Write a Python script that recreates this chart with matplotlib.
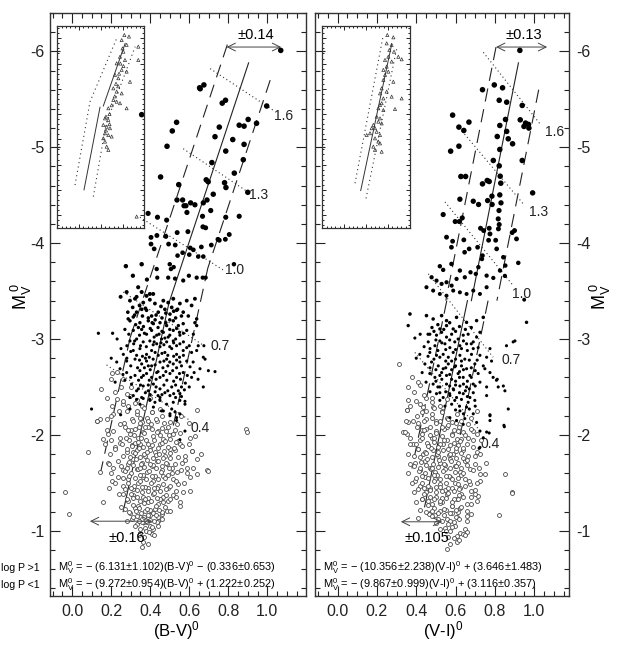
import numpy as np
import matplotlib
matplotlib.use("Agg")
import matplotlib.pyplot as plt
from matplotlib.ticker import MultipleLocator, FormatStrFormatter

plt.rcParams['font.family'] = ['Liberation Sans', 'DejaVu Sans']
plt.rcParams['mathtext.fontset'] = 'custom'
plt.rcParams['mathtext.rm'] = 'Liberation Sans'
plt.rcParams['mathtext.it'] = 'Liberation Sans:italic'
plt.rcParams['mathtext.bf'] = 'Liberation Sans:bold'
plt.rcParams['axes.unicode_minus'] = False

# ------------------------------------------------------------------ data
# fits: (slope, zero point)
bv_fit_hi = (-6.131, -0.336)   # log P > 1
bv_fit_lo = (-9.272, 1.222)    # log P < 1
vi_fit_hi = (-10.356, 3.646)
vi_fit_lo = (-9.867, 3.116)
bv_halfwidth = (0.14, 0.16)
vi_halfwidth = (0.13, 0.105)

# magnitude ranges of the drawn ridge / band segments (hi part, lo part)
bv_solid_M = [(-5.88, -3.377), (-3.377, -1.2)]
bv_left_M = [(-6.07, -3.015), (-3.015, -1.58)]
bv_right_M = [(-5.70, -3.739), (-3.739, -2.0)]
vi_solid_M = [(-5.88, -3.40), (-3.40, -1.25)]
vi_left_M = [(-6.045, -3.40), (-3.40, -1.65)]
vi_right_M = [(-5.60, -3.40), (-3.40, -2.0)]

logp_labels = ["1.6", "1.3", "1.0", "0.7", "0.4"]
bv_logp_lines = [(0.707, -5.82, 1.031, -5.385), (0.569, -4.985, 0.903, -4.53),
                 (0.347, -4.27, 0.774, -3.72), (0.262, -3.49, 0.672, -2.935),
                 (0.176, -2.73, 0.604, -2.15)]
bv_logp_label_pos = [(1.082, -5.33), (0.954, -4.50), (0.834, -3.72), (0.757, -2.93), (0.655, -2.07)]
vi_logp_lines = [(0.741, -5.99, 1.029, -5.245), (0.62, -5.20, 0.944, -4.41),
                 (0.546, -4.43, 0.893, -3.557), (0.461, -3.68, 0.791, -2.81),
                 (0.393, -2.86, 0.724, -2.044)]
vi_logp_label_pos = [(1.105, -5.157), (1.02, -4.32), (0.936, -3.47), (0.885, -2.78), (0.775, -1.90)]

bv_arrow_top_M, bv_arrow_bot_M = -6.045, -1.10
vi_arrow_top_M, vi_arrow_bot_M = -6.045, -1.094

bv_eq = ["M$_{\\rm V}^{0}$ = \u2212 (6.131\u00b11.102)(B-V)$^{0}$ \u2212 (0.336\u00b10.653)",
         "M$_{\\rm V}^{0}$ = \u2212 (9.272\u00b10.954)(B-V)$^{0}$ + (1.222\u00b10.252)"]
vi_eq = ["M$_{\\rm V}^{0}$ = \u2212 (10.356\u00b12.238)(V-I)$^{0}$ + (3.646\u00b11.483)",
         "M$_{\\rm V}^{0}$ = \u2212 (9.867\u00b10.999)(V-I)$^{0}$ + (3.116\u00b10.357)"]

# long-period (filled) Cepheids, (B-V)0 vs MV0
bv_filled = [
 (1.069,-6.01),(0.653,-5.62),(0.656,-5.61),(0.675,-5.65),(0.769,-5.46),(0.786,-5.49),(0.997,-5.43),
 (0.535,-5.26),(0.513,-5.17),(0.754,-5.21),(0.856,-5.23),(0.881,-5.22),(0.902,-5.29),(0.945,-5.25),
 (0.732,-5.11),(0.823,-5.08),(0.881,-5.03),(0.486,-5.01),(0.787,-4.96),(0.877,-4.87),(0.716,-4.84),
 (0.831,-4.73),(0.453,-4.69),(0.687,-4.66),(0.697,-4.64),(0.781,-4.63),(0.788,-4.58),(0.546,-4.61),
 (0.723,-4.51),(0.90,-4.53),(0.537,-4.45),(0.566,-4.45),(0.573,-4.39),(0.583,-4.39),(0.607,-4.42),
 (0.629,-4.40),(0.588,-4.32),(0.672,-4.42),(0.691,-4.45),(0.71,-4.34),(0.668,-4.28),(0.787,-4.27),
 (0.856,-4.28),(0.484,-4.24),(0.67,-4.17),(0.684,-4.16),(0.593,-4.12),(0.538,-4.11),(0.805,-4.09),
 (0.785,-4.04),(0.754,-4.03),(0.747,-4.04),(0.662,-3.96),(0.713,-3.98),(0.605,-3.95),(0.621,-3.93),
 (0.60,-3.88),(0.528,-3.98),(0.404,-4.06),(0.434,-4.08),(0.404,-3.99),(0.42,-3.94),(0.389,-4.31),
 (0.437,-4.27),(0.48,-4.07),(0.494,-3.99),(0.54,-3.87),(0.566,-3.90),(0.646,-3.86),(0.672,-3.86),
 (0.684,-3.64),(0.669,-3.64),(0.829,-3.78),(0.275,-3.76),(0.311,-3.66),(0.356,-3.78),(0.383,-3.62),
 (0.433,-3.73),(0.436,-3.64),(0.50,-3.78),(0.506,-3.73),(0.52,-3.75),(0.492,-3.64),(0.527,-3.63),
 (0.569,-3.61),(0.598,-3.66),(0.638,-3.64),(0.248,-3.44),(0.279,-3.49),(0.338,-3.54),(0.33,-3.44),
 (0.356,-3.49),(0.381,-3.45),(0.398,-3.47),(0.415,-3.47),(0.356,-5.34),
 (0.296,-3.40),(0.322,-3.42),(0.364,-3.38),(0.398,-3.41),(0.424,-3.37),(0.467,-3.40),(0.492,-3.38),
 (0.518,-3.42),(0.552,-3.37),(0.587,-3.40),(0.612,-3.35),(0.629,-3.42),
 (0.33,-3.28),(0.356,-3.31),(0.381,-3.30),(0.407,-3.24),(0.441,-3.28),(0.475,-3.31),(0.501,-3.26),
 (0.535,-3.30),(0.569,-3.28),(0.595,-3.24),(0.638,-3.21),(0.287,-3.21),(0.313,-3.23),
 (0.296,-3.19),(0.347,-3.17),(0.39,-3.19),(0.416,-3.16),(0.45,-3.17),(0.484,-3.14),(0.518,-3.19),
 (0.544,-3.14),(0.569,-3.16),(0.629,-3.17),(0.638,-3.14),(0.339,-3.12),
 (0.134,-3.06),(0.207,-3.06),(0.313,-3.09),(0.356,-3.10),(0.381,-3.05),(0.407,-3.09),(0.433,-3.04),
 (0.467,-3.07),(0.492,-3.02),(0.518,-3.09),(0.552,-3.04),(0.587,-3.09),(0.621,-3.05),
 (0.296,-2.98),(0.33,-3.0),(0.364,-2.97),(0.398,-2.98),(0.433,-2.95),(0.458,-3.0),(0.484,-2.97),
 (0.518,-2.98),(0.552,-2.95),(0.587,-2.91),(0.646,-2.93),(0.675,-2.93),
 (0.262,-2.84),(0.313,-2.88),(0.347,-2.90),(0.381,-2.84),(0.407,-2.88),(0.441,-2.83),(0.475,-2.86),
 (0.51,-2.90),(0.535,-2.84),(0.569,-2.88),(0.612,-2.86),(0.638,-2.88),(0.681,-2.79),(0.672,-2.81),
 (0.228,-2.76),(0.279,-2.77),(0.322,-2.79),(0.356,-2.74),(0.381,-2.77),(0.407,-2.72),(0.45,-2.76),
 (0.484,-2.79),(0.518,-2.74),(0.552,-2.76),(0.587,-2.77),(0.604,-2.71),(0.655,-2.69),(0.732,-2.66),
 (0.698,-2.67),(0.245,-2.69),(0.279,-2.65),(0.322,-2.62),(0.347,-2.67),(0.381,-2.64),(0.407,-2.60),
 (0.433,-2.65),(0.467,-2.62),(0.501,-2.64),(0.535,-2.60),(0.569,-2.65),(0.612,-2.60),(0.672,-2.50),
 (0.27,-2.57),(0.304,-2.53),(0.339,-2.48),(0.364,-2.51),(0.39,-2.46),(0.416,-2.53),(0.45,-2.48),
 (0.475,-2.44),(0.51,-2.50),(0.544,-2.46),(0.313,-2.41),(0.356,-2.39),(0.398,-2.37),(0.45,-2.39),
 (0.501,-2.41),(0.552,-2.43),
 (0.31,-3.33),(0.345,-3.35),(0.375,-3.32),(0.455,-3.34),(0.51,-3.33),(0.54,-3.31),(0.39,-3.22),
 (0.425,-3.20),(0.46,-3.22),(0.5,-3.20),(0.53,-3.22),(0.325,-3.15),(0.365,-3.13),(0.40,-3.11),
 (0.44,-3.12),(0.46,-3.08),(0.5,-3.10),(0.535,-3.11),(0.57,-3.06),(0.42,-3.02),(0.445,-3.05),
 (0.475,-3.01),(0.5,-3.04),(0.53,-3.00),(0.345,-3.04),(0.315,-2.95),(0.35,-2.93),(0.38,-2.92),
 (0.415,-2.94),(0.45,-2.92),(0.47,-2.94),(0.5,-2.92),(0.535,-2.93),(0.57,-2.97),(0.3,-2.87),
 (0.33,-2.83),(0.36,-2.82),(0.395,-2.81),(0.425,-2.86),(0.46,-2.85),(0.49,-2.83),(0.52,-2.82),
 (0.55,-2.81),(0.3,-2.72),(0.335,-2.70),(0.37,-2.70),(0.39,-2.72),(0.425,-2.73),(0.465,-2.70),
 (0.49,-2.72),(0.535,-2.70),(0.56,-2.72),(0.355,-2.60),(0.395,-2.57),(0.43,-2.58),(0.45,-2.60),
 (0.485,-2.57),(0.52,-2.56),(0.555,-2.58),(0.58,-2.54),(0.33,-2.46),(0.375,-2.44),(0.425,-2.45),
 (0.46,-2.42),(0.49,-2.46),(0.52,-2.43),(0.575,-2.47),(0.6,-2.50),(0.625,-2.65),(0.645,-2.58),
 (0.23,-3.0),(0.25,-2.9),(0.2,-2.8),(0.22,-2.55),
 (0.296,-2.39),(0.33,-2.37),(0.364,-2.38),(0.398,-2.36),(0.424,-2.34),(0.45,-2.36),(0.484,-2.32),
 (0.518,-2.34),(0.552,-2.36),(0.578,-2.35),(0.099,-2.27),(0.51,-2.27),(0.527,-2.24),(0.552,-2.22),
 (0.578,-2.04),(0.552,-1.95),(0.347,-2.32),(0.416,-2.29),(0.458,-2.25),(0.501,-2.20),(0.535,-2.15),
 (0.578,-2.32),(0.501,-2.22),(0.535,-2.18),(0.467,-2.25),(0.248,-2.21),(0.296,-2.27)]
bv_filled_more = [
 (0.285,-3.28),(0.32,-3.25),(0.36,-3.24),(0.43,-3.25),(0.48,-3.27),(0.52,-3.29),(0.56,-3.24),(0.27,-3.1),
 (0.29,-3.05),(0.37,-3.06),(0.41,-3.17),(0.48,-3.17),(0.55,-3.07),(0.28,-2.93),(0.32,-2.98),(0.42,-2.97),
 (0.455,-2.96),(0.52,-2.96),(0.6,-2.93),(0.28,-2.8),(0.345,-2.78),(0.375,-2.8),(0.415,-2.79),(0.47,-2.77),
 (0.5,-2.76),(0.535,-2.78),(0.57,-2.83),(0.62,-2.76),(0.26,-2.63),(0.3,-2.6),(0.34,-2.57),(0.365,-2.62),
 (0.4,-2.68),(0.44,-2.66),(0.48,-2.66),(0.515,-2.67),(0.55,-2.64),(0.59,-2.62),(0.35,-2.52),(0.39,-2.52),
 (0.43,-2.5),(0.47,-2.52),(0.53,-2.52),(0.56,-2.5),(0.4,-2.42),(0.44,-2.41),(0.53,-2.39),(0.56,-2.4)]

# short-period (open) Cepheids, (B-V)0 vs MV0
bv_open = [
 (0.202,-2.30),(0.227,-2.37),(0.262,-2.32),(0.296,-2.41),(0.33,-2.36),(0.356,-2.30),(0.398,-2.39),(0.287,-2.30),
 (0.125,-2.15),(0.176,-2.17),(0.21,-2.22),(0.245,-2.11),(0.279,-2.25),(0.304,-2.17),(0.33,-2.22),(0.356,-2.13),
 (0.381,-2.18),(0.407,-2.24),(0.433,-2.15),(0.458,-2.20),(0.501,-2.13),(0.535,-2.11),(0.638,-2.26),(0.142,-2.17),
 (0.159,-1.96),(0.185,-2.01),(0.21,-2.04),(0.245,-1.97),(0.27,-2.08),(0.296,-2.01),(0.322,-2.06),(0.339,-1.97),
 (0.364,-2.03),(0.39,-2.08),(0.416,-1.99),(0.441,-2.04),(0.467,-1.96),(0.492,-2.08),(0.518,-2.01),(0.544,-1.94),
 (0.604,-1.97),(0.629,-1.99),
 (0.082,-1.82),(0.168,-1.90),(0.193,-1.80),(0.219,-1.87),(0.245,-1.92),(0.279,-1.82),(0.304,-1.89),(0.33,-1.84),
 (0.347,-1.90),(0.373,-1.78),(0.398,-1.87),(0.424,-1.82),(0.45,-1.90),(0.475,-1.78),(0.501,-1.85),(0.527,-1.84),
 (0.552,-1.90),(0.578,-1.78),(0.612,-1.83),(0.638,-1.75),
 (0.142,-1.61),(0.185,-1.71),(0.21,-1.66),(0.236,-1.73),(0.262,-1.63),(0.287,-1.70),(0.313,-1.75),(0.33,-1.64),
 (0.356,-1.71),(0.381,-1.61),(0.407,-1.68),(0.433,-1.73),(0.458,-1.63),(0.484,-1.70),(0.51,-1.66),(0.535,-1.61),
 (0.561,-1.71),(0.587,-1.66),(0.689,-1.63),
 (0.202,-1.52),(0.236,-1.56),(0.262,-1.47),(0.287,-1.54),(0.313,-1.44),(0.339,-1.50),(0.364,-1.56),(0.39,-1.45),
 (0.416,-1.52),(0.441,-1.47),(0.467,-1.57),(0.492,-1.45),(0.518,-1.54),(0.544,-1.49),(0.604,-1.56),
 (0.159,-1.30),(0.262,-1.38),(0.287,-1.31),(0.313,-1.37),(0.339,-1.26),(0.364,-1.35),(0.39,-1.30),(0.416,-1.38),
 (0.441,-1.28),(0.467,-1.35),(0.492,-1.31),(0.518,-1.37),(0.552,-1.26),(0.604,-1.42),
 (0.27,-1.23),(0.296,-1.19),(0.322,-1.24),(0.347,-1.14),(0.373,-1.21),(0.398,-1.16),(0.424,-1.23),(0.441,-1.10),
 (0.458,-1.17),(0.484,-1.21),(0.381,-1.09),(0.433,-1.09),
 (0.279,-1.10),(0.304,-1.12),(0.33,-1.07),(0.356,-1.09),(0.373,-1.03),(0.398,-1.05),(0.416,-1.02),(0.441,-1.05),
 (0.322,-1.05),(0.347,-0.98),(0.407,-0.97),(0.361,-0.88),(0.39,-0.86),(0.356,-0.83),
 (0.30,-2.05),(0.34,-2.08),(0.37,-2.02),(0.41,-2.06),(0.45,-2.0),(0.48,-2.04),(0.29,-1.95),(0.32,-1.92),
 (0.355,-1.97),(0.39,-1.9),(0.42,-1.95),(0.46,-1.92),(0.50,-1.96),(0.28,-1.85),(0.31,-1.82),(0.34,-1.86),
 (0.37,-1.8),(0.40,-1.84),(0.43,-1.79),(0.47,-1.83),(0.52,-1.86),(0.29,-1.72),(0.325,-1.75),(0.355,-1.70),
 (0.385,-1.74),(0.415,-1.69),(0.44,-1.73),(0.48,-1.71),(0.50,-1.76),(0.27,-1.62),(0.30,-1.6),(0.335,-1.64),
 (0.365,-1.58),(0.395,-1.62),(0.425,-1.57),(0.455,-1.61),(0.49,-1.58),(0.285,-1.5),(0.315,-1.47),(0.345,-1.52),
 (0.375,-1.46),(0.405,-1.5),(0.435,-1.45),(0.465,-1.49),(0.3,-1.38),(0.33,-1.35),(0.36,-1.4),(0.39,-1.34),
 (0.42,-1.39),(0.45,-1.33),(0.48,-1.37),(0.31,-1.27),(0.34,-1.24),(0.37,-1.29),(0.4,-1.22),(0.43,-1.26),
 (0.46,-1.2),(0.33,-1.15),(0.36,-1.12),(0.39,-1.16),(0.42,-1.1),(0.44,-1.14),(0.35,-1.02),(0.38,-1.0),
 (0.41,-1.04),(0.31,-2.15),(0.35,-2.18),(0.39,-2.14),(0.43,-2.17),(0.47,-2.12),(0.33,-2.25),(0.37,-2.28),
 (0.41,-2.24),(0.45,-2.27),(0.26,-2.35),(0.32,-2.33),(0.30,-2.5),(0.26,-2.58),(0.23,-2.66),(0.2,-2.58),
 (-0.037,-1.40),(-0.015,-1.17),(0.125,-2.14),(0.146,-2.48),(0.889,-2.06),(0.897,-2.03),(0.698,-1.627),
 (0.638,-1.59),(0.612,-1.83),(0.202,-2.65)]
bv_open_more = [
 (0.265,-2.12),(0.285,-2.05),(0.315,-2.0),(0.345,-2.12),(0.375,-2.08),(0.405,-2.11),(0.435,-2.03),(0.46,-2.07),
 (0.495,-2.0),(0.525,-2.05),(0.555,-2.02),(0.255,-1.9),(0.275,-1.97),(0.305,-1.88),(0.335,-1.93),(0.365,-1.87),
 (0.38,-1.95),(0.41,-1.89),(0.44,-1.86),(0.475,-1.94),(0.49,-1.87),(0.53,-1.93),(0.565,-1.88),(0.26,-1.78),
 (0.295,-1.77),(0.32,-1.81),(0.35,-1.77),(0.385,-1.82),(0.415,-1.76),(0.445,-1.8),(0.465,-1.76),(0.5,-1.81),
 (0.54,-1.77),(0.58,-1.74),(0.25,-1.68),(0.28,-1.66),(0.31,-1.69),(0.345,-1.66),(0.37,-1.67),(0.4,-1.7),
 (0.43,-1.66),(0.46,-1.68),(0.495,-1.65),(0.525,-1.7),(0.56,-1.63),(0.26,-1.55),(0.29,-1.57),(0.32,-1.55),
 (0.35,-1.58),(0.38,-1.54),(0.41,-1.57),(0.44,-1.54),(0.475,-1.55),(0.51,-1.6),(0.53,-1.52),(0.575,-1.5),
 (0.27,-1.44),(0.3,-1.45),(0.33,-1.43),(0.36,-1.46),(0.39,-1.42),(0.42,-1.45),(0.45,-1.41),(0.48,-1.44),
 (0.5,-1.47),(0.53,-1.42),(0.28,-1.33),(0.31,-1.34),(0.345,-1.31),(0.375,-1.33),(0.405,-1.31),(0.435,-1.34),
 (0.465,-1.3),(0.5,-1.33),(0.53,-1.35),(0.29,-1.2),(0.325,-1.21),(0.355,-1.19),(0.385,-1.23),(0.415,-1.19),
 (0.445,-1.22),(0.475,-1.25),(0.5,-1.21),(0.31,-1.14),(0.34,-1.1),(0.37,-1.14),(0.4,-1.11),(0.43,-1.16),
 (0.46,-1.12),(0.34,-0.96),(0.37,-0.94),(0.395,-0.99),(0.42,-0.96),(0.22,-2.45),(0.25,-2.5),(0.28,-2.43),
 (0.18,-2.38),(0.24,-2.25),(0.2,-2.2),(0.18,-2.05),(0.2,-1.95),(0.22,-1.85),(0.19,-1.7),(0.2,-1.6),
 (0.22,-1.5),(0.24,-1.38),(0.19,-1.45),(0.25,-1.25),(0.56,-2.2),(0.6,-2.12),(0.59,-1.6),(0.62,-1.65),
 (0.57,-1.4),(0.55,-1.3),(0.66,-1.8),(0.6,-1.9)]

# long-period (filled) Cepheids, (V-I)0 vs MV0
vi_filled = [
 (0.927,-6.01),(0.737,-5.60),(0.797,-5.65),(0.839,-5.62),(0.822,-5.49),(0.939,-5.436),(0.585,-5.335),
 (0.617,-5.21),(0.642,-5.175),(0.668,-5.262),(0.825,-5.227),(0.929,-5.286),(0.948,-5.217),(0.956,-5.252),
 (0.971,-5.238),(0.973,-5.2),(0.86,-5.165),(0.812,-5.112),(0.868,-5.088),(0.89,-5.036),(0.617,-5.011),
 (0.575,-4.959),(0.825,-4.977),(0.939,-4.862),(0.792,-4.862),(0.822,-4.806),(0.627,-4.695),(0.651,-4.695),
 (0.761,-4.653),(0.771,-4.643),(0.737,-4.618),(0.827,-4.698),(0.83,-4.625),(0.992,-4.524),(0.785,-4.49),
 (0.763,-4.444),(0.786,-4.403),(0.825,-4.503),(0.831,-4.42),(0.821,-4.34),(0.622,-4.458),(0.69,-4.437),
 (0.717,-4.403),(0.634,-4.263),(0.619,-4.225),(0.598,-4.225),(0.537,-4.298),(0.727,-4.155),(0.743,-4.131),
 (0.771,-4.155),(0.775,-4.096),(0.817,-4.253),(0.822,-4.194),(0.818,-4.149),(0.888,-4.11),(0.91,-4.044),
 (0.9,-4.131),(0.554,-4.062),(0.585,-4.02),(0.579,-3.957),(0.642,-4.034),(0.669,-3.94),(0.646,-3.905),
 (0.712,-3.957),(0.737,-3.87),(0.734,-3.835),(0.768,-4.03),(0.804,-4.03),(0.809,-3.94),(0.843,-3.853),
 (0.853,-3.766),(0.826,-3.714),(0.919,-3.794),(0.52,-3.759),(0.537,-3.721),(0.579,-3.783),(0.622,-3.714),
 (0.647,-3.644),(0.676,-3.696),(0.716,-3.749),(0.703,-3.679),(0.758,-3.661),(0.792,-3.637),(0.851,-3.658),
 (0.478,-3.644),(0.503,-3.609),(0.529,-3.575),(0.554,-3.592),(0.58,-3.557),(0.605,-3.627),(0.452,-3.54),
 (0.486,-3.505),(0.52,-3.47),(0.554,-3.452),(0.588,-3.505),(0.622,-3.487),(0.656,-3.47),(0.69,-3.505),
 (0.724,-3.47),(0.758,-3.54),(0.949,-3.41),(0.368,-3.261),(0.452,-3.244),(0.486,-3.209),(0.529,-3.244),
 (0.554,-3.192),(0.605,-3.226),(0.656,-3.174),(0.707,-3.192),(0.741,-3.226),(0.961,-3.174),(0.359,-3.14),
 (0.52,-3.105),(0.554,-3.14),(0.588,-3.105),(0.86,-5.47),(0.854,-5.29),
 (0.393,-3.01),(0.469,-3.05),(0.503,-3.04),(0.529,-3.07),(0.554,-3.02),(0.58,-3.05),(0.613,-3.0),
 (0.639,-3.04),(0.664,-3.05),(0.707,-3.02),(0.724,-3.07),
 (0.461,-2.97),(0.495,-2.93),(0.52,-2.98),(0.546,-2.95),(0.571,-2.91),(0.596,-2.97),(0.622,-2.93),
 (0.656,-2.95),(0.69,-2.97),(0.715,-2.91),(0.775,-2.90),(0.859,-2.93),(0.902,-2.98),(0.893,-2.97),
 (0.418,-2.84),(0.469,-2.86),(0.503,-2.83),(0.537,-2.84),(0.563,-2.81),(0.588,-2.86),(0.622,-2.83),
 (0.647,-2.79),(0.681,-2.84),(0.724,-2.83),(0.758,-2.81),(0.783,-2.77),
 (0.444,-2.74),(0.478,-2.76),(0.512,-2.72),(0.537,-2.69),(0.563,-2.74),(0.596,-2.71),(0.63,-2.72),
 (0.656,-2.69),(0.698,-2.74),(0.741,-2.72),(0.749,-2.69),
 (0.469,-2.64),(0.495,-2.60),(0.529,-2.65),(0.554,-2.62),(0.58,-2.58),(0.613,-2.64),(0.639,-2.60),
 (0.673,-2.62),(0.715,-2.64),(0.775,-2.65),(0.791,-2.60),(0.808,-2.57),(0.812,-2.58),(0.843,-2.51),
 (0.486,-2.53),(0.52,-2.50),(0.554,-2.53),(0.588,-2.48),(0.622,-2.51),(0.656,-2.50),(0.69,-2.53),
 (0.724,-2.55),(0.758,-2.50),(0.817,-2.50),(0.851,-2.46),
 (0.503,-2.43),(0.537,-2.39),(0.571,-2.41),(0.605,-2.39),(0.639,-2.43),(0.673,-2.39),(0.758,-2.41),
 (0.63,-2.37),(0.596,-2.36),(0.664,-2.34),(0.698,-2.36),(0.868,-2.27),(0.775,-2.21),(0.846,-2.10),
 (0.656,-2.29),(0.622,-2.25),(0.69,-2.22),(0.707,-2.13),(0.775,-2.15),(0.724,-2.04),(0.741,-1.97),
 (0.72,-1.86),(0.571,-2.18),(0.605,-2.15),(0.647,-2.17),(0.639,-2.11),(0.546,-2.30),(0.848,-2.085),
 (0.775,-2.20),(0.758,-2.03),(0.771,-2.02),(0.724,-1.87),
 (0.48,-3.12),(0.51,-3.15),(0.57,-3.17),(0.62,-3.13),(0.68,-3.12),(0.50,-2.99),(0.53,-2.96),(0.57,-2.99),
 (0.64,-2.98),(0.60,-2.89),(0.66,-2.88),(0.69,-2.9),(0.49,-2.79),(0.52,-2.81),(0.6,-2.79),(0.67,-2.78),
 (0.58,-2.68),(0.62,-2.66),(0.70,-2.67),(0.50,-2.56),(0.53,-2.58),(0.60,-2.56),(0.66,-2.56),(0.70,-2.51),
 (0.55,-2.45),(0.59,-2.47),(0.65,-2.46),(0.69,-2.44),(0.42,-3.05),(0.44,-2.92),(0.40,-2.80),(0.43,-2.65),
 (0.45,-2.55),(0.47,-2.45),(0.52,-2.36),(0.58,-2.32),(0.62,-2.30),(0.66,-2.40)]
vi_filled_more = [
 (0.46,-3.05),(0.49,-3.08),(0.54,-3.1),(0.6,-3.08),(0.65,-3.1),(0.47,-2.9),(0.51,-2.88),(0.55,-2.89),
 (0.63,-2.9),(0.68,-2.95),(0.46,-2.82),(0.55,-2.77),(0.58,-2.77),(0.63,-2.77),(0.71,-2.78),(0.47,-2.7),
 (0.5,-2.68),(0.55,-2.7),(0.6,-2.72),(0.64,-2.68),(0.68,-2.7),(0.52,-2.62),(0.57,-2.63),(0.62,-2.6),
 (0.68,-2.6),(0.51,-2.5),(0.57,-2.51),(0.6,-2.52),(0.64,-2.53),(0.67,-2.48),(0.52,-2.44),(0.57,-2.43),
 (0.62,-2.44),(0.6,-2.26),(0.64,-2.22),(0.67,-2.27),(0.7,-2.3)]

# short-period (open) Cepheids, (V-I)0 vs MV0
vi_open = [
 (0.359,-2.36),(0.418,-2.32),(0.452,-2.39),(0.478,-2.34),(0.52,-2.30),(0.554,-2.37),(0.435,-2.29),(0.486,-2.29),
 (0.707,-2.25),(0.351,-2.26),(0.402,-2.20),(0.427,-2.24),(0.452,-2.17),(0.478,-2.22),(0.503,-2.15),(0.529,-2.25),
 (0.554,-2.18),(0.58,-2.13),(0.605,-2.22),(0.63,-2.15),(0.664,-2.11),(0.359,-2.13),(0.385,-2.15),
 (0.334,-2.03),(0.351,-2.01),(0.368,-1.97),(0.402,-2.08),(0.427,-2.01),(0.452,-2.06),(0.478,-1.97),(0.503,-2.04),
 (0.529,-1.99),(0.554,-2.08),(0.58,-2.01),(0.605,-1.96),(0.639,-2.03),(0.664,-1.97),(0.69,-2.04),(0.707,-2.01),
 (0.385,-1.90),(0.41,-1.85),(0.435,-1.80),(0.461,-1.89),(0.486,-1.84),(0.512,-1.78),(0.537,-1.90),(0.563,-1.85),
 (0.588,-1.80),(0.613,-1.89),(0.639,-1.84),(0.664,-1.78),(0.69,-1.87),(0.707,-1.82),(0.724,-1.80),
 (0.368,-1.70),(0.393,-1.71),(0.418,-1.63),(0.444,-1.73),(0.469,-1.66),(0.495,-1.61),(0.52,-1.71),(0.546,-1.64),
 (0.571,-1.75),(0.596,-1.68),(0.622,-1.61),(0.647,-1.73),(0.673,-1.64),(0.698,-1.70),(0.724,-1.59),(0.754,-1.71),
 (0.749,-1.59),(0.851,-1.59),
 (0.393,-1.52),(0.418,-1.47),(0.444,-1.56),(0.469,-1.45),(0.495,-1.54),(0.52,-1.49),(0.546,-1.43),(0.571,-1.56),
 (0.596,-1.50),(0.622,-1.45),(0.647,-1.54),(0.673,-1.49),(0.698,-1.43),(0.724,-1.52),(0.885,-1.40),
 (0.427,-1.33),(0.452,-1.40),(0.478,-1.28),(0.503,-1.35),(0.529,-1.30),(0.554,-1.38),(0.58,-1.26),(0.605,-1.33),
 (0.63,-1.38),(0.656,-1.28),(0.681,-1.35),(0.707,-1.31),(0.715,-1.36),
 (0.469,-1.19),(0.495,-1.16),(0.52,-1.21),(0.554,-1.12),(0.58,-1.19),(0.605,-1.14),(0.622,-1.24),(0.656,-1.10),
 (0.681,-1.17),(0.466,-1.18),
 (0.546,-1.03),(0.571,-1.00),(0.596,-1.05),(0.622,-0.98),(0.647,-1.02),(0.605,-0.95),(0.639,-0.97),(0.656,-0.99),
 (0.554,-0.81),(0.605,-0.88),(0.647,-0.96),
 (0.43,-2.05),(0.47,-2.08),(0.50,-2.02),(0.54,-2.06),(0.58,-2.0),(0.61,-2.04),(0.42,-1.95),(0.455,-1.92),
 (0.49,-1.97),(0.52,-1.9),(0.555,-1.95),(0.59,-1.92),(0.63,-1.96),(0.41,-1.85),(0.445,-1.82),(0.475,-1.86),
 (0.505,-1.8),(0.535,-1.84),(0.565,-1.79),(0.60,-1.83),(0.64,-1.86),(0.425,-1.72),(0.455,-1.75),(0.485,-1.70),
 (0.515,-1.74),(0.545,-1.69),(0.575,-1.73),(0.61,-1.71),(0.64,-1.76),(0.415,-1.62),(0.445,-1.6),(0.475,-1.64),
 (0.505,-1.58),(0.535,-1.62),(0.565,-1.57),(0.595,-1.61),(0.63,-1.58),(0.43,-1.5),(0.46,-1.47),(0.49,-1.52),
 (0.52,-1.46),(0.55,-1.5),(0.58,-1.45),(0.61,-1.49),(0.44,-1.38),(0.47,-1.35),(0.50,-1.4),(0.53,-1.34),
 (0.56,-1.39),(0.59,-1.33),(0.62,-1.37),(0.46,-1.27),(0.49,-1.24),(0.52,-1.29),(0.55,-1.22),(0.58,-1.26),
 (0.61,-1.2),(0.48,-1.15),(0.51,-1.12),(0.54,-1.16),(0.57,-1.1),(0.60,-1.14),(0.52,-1.02),(0.55,-1.0),
 (0.58,-1.04),(0.44,-2.15),(0.48,-2.18),(0.52,-2.14),(0.56,-2.17),(0.60,-2.12),(0.45,-2.25),(0.49,-2.28),
 (0.53,-2.24),(0.40,-2.35),(0.44,-2.42),(0.48,-2.38),(0.42,-2.52),(0.38,-2.6),
 (0.31,-2.74),(0.354,-2.26),(0.344,-2.027),(0.82,-1.167),(0.886,-1.397),(0.41,-1.132)]
vi_open_more = [
 (0.41,-2.12),(0.44,-2.05),(0.47,-2.0),(0.50,-2.12),(0.53,-2.08),(0.56,-2.1),(0.59,-2.05),(0.62,-2.08),
 (0.65,-2.0),(0.68,-2.06),(0.4,-1.9),(0.43,-1.97),(0.46,-1.88),(0.49,-1.93),(0.51,-1.87),(0.54,-1.95),
 (0.57,-1.89),(0.6,-1.86),(0.625,-1.94),(0.66,-1.9),(0.69,-1.95),(0.39,-1.78),(0.42,-1.77),(0.45,-1.81),
 (0.48,-1.77),(0.51,-1.82),(0.54,-1.76),(0.57,-1.8),(0.6,-1.76),(0.63,-1.81),(0.66,-1.74),(0.39,-1.68),
 (0.42,-1.66),(0.45,-1.69),(0.48,-1.66),(0.51,-1.67),(0.54,-1.7),(0.57,-1.66),(0.6,-1.68),(0.63,-1.65),
 (0.66,-1.69),(0.69,-1.63),(0.4,-1.55),(0.43,-1.57),(0.46,-1.55),(0.49,-1.58),(0.52,-1.54),(0.55,-1.57),
 (0.58,-1.54),(0.61,-1.55),(0.64,-1.6),(0.67,-1.52),(0.41,-1.44),(0.44,-1.45),(0.47,-1.43),(0.5,-1.46),
 (0.53,-1.42),(0.56,-1.45),(0.59,-1.41),(0.62,-1.44),(0.65,-1.47),(0.68,-1.42),(0.43,-1.33),(0.46,-1.31),
 (0.49,-1.33),(0.52,-1.31),(0.55,-1.34),(0.58,-1.3),(0.61,-1.33),(0.64,-1.35),(0.45,-1.2),(0.48,-1.21),
 (0.51,-1.19),(0.54,-1.23),(0.57,-1.19),(0.6,-1.22),(0.63,-1.25),(0.66,-1.21),(0.5,-1.08),(0.53,-1.1),
 (0.56,-1.07),(0.59,-1.09),(0.62,-1.12),(0.56,-0.94),(0.59,-0.92),(0.62,-0.9),(0.57,-0.86),(0.36,-2.5),
 (0.39,-2.45),(0.41,-2.55),(0.37,-2.3),(0.35,-2.15),(0.37,-1.9),(0.36,-1.8),(0.36,-1.6),(0.38,-1.5),
 (0.39,-1.4),(0.4,-1.3),(0.42,-1.22),(0.7,-1.78),(0.72,-1.66),(0.71,-1.5),(0.7,-1.38),(0.68,-1.28),
 (0.73,-1.95),(0.68,-2.18),(0.66,-1.15)]

# inset: galactic calibrators (triangles) and their relations
bv_inset_tri = [
 (1.041,-8.13),(1.148,-8.07),(0.98,-7.93),(1.094,-7.74),(1.362,-7.67),(1.018,-7.47),(0.941,-7.27),(1.056,-7.14),
 (0.865,-7.01),(0.98,-6.75),(1.094,-6.68),(0.827,-6.55),(0.903,-6.42),(1.171,-6.28),(0.788,-6.02),(0.865,-5.89),
 (0.98,-5.82),(0.788,-5.56),(0.865,-5.49),(0.941,-5.43),(1.094,-5.23),(0.673,-5.23),(0.596,-4.83),(0.673,-4.77),
 (0.558,-4.57),(0.635,-4.50),(0.711,-4.44),(0.596,-4.24),(0.673,-4.17),(0.558,-4.04),(0.75,-4.11),(0.596,-3.91),
 (0.635,-3.71),(0.673,-3.58),(1.362,-7.14),(1.0,-7.6),(0.95,-7.0),(1.02,-6.9),(0.92,-6.6),(0.85,-6.2),
 (0.9,-6.1),(0.82,-5.7),(0.75,-5.35),(0.7,-5.0),(0.62,-4.9),(0.7,-4.6),(0.62,-4.35),(1.324,-0.94)]
bv_inset_solid = [[(0.114, -2.0), (0.482, -5.27)], [(0.558, -5.32), (1.06, -7.80)]]
bv_inset_dotted = [[(-0.093, -2.19), (0.252, -5.49), (0.866, -8.0)],
                   [(0.328, -1.73), (0.62, -4.6), (1.29, -7.67)]]
vi_inset_tri = [
 (0.983,-8.13),(1.12,-8.04),(0.968,-7.80),(1.082,-7.74),(1.029,-7.54),(1.135,-7.47),(1.006,-7.27),(0.93,-7.14),
 (1.234,-7.27),(1.31,-7.17),(1.082,-7.08),(0.968,-6.88),(0.892,-6.75),(1.006,-6.68),(0.93,-6.55),(1.12,-6.28),
 (0.892,-6.35),(0.854,-6.02),(0.968,-5.89),(0.816,-5.82),(0.892,-5.62),(1.082,-5.69),(1.31,-5.62),(0.854,-5.43),
 (0.816,-5.36),(0.778,-5.23),(0.892,-5.16),(1.158,-5.20),(0.74,-4.90),(0.816,-4.83),(0.778,-4.70),(0.854,-4.63),
 (0.664,-4.57),(0.702,-4.44),(0.588,-4.24),(0.74,-4.30),(0.816,-4.17),(0.702,-4.04),(0.778,-3.91),(0.816,-3.84),
 (0.664,-3.71),(0.702,-3.58),(0.854,-3.51),(0.512,-4.17),(0.626,-4.44)]
vi_inset_solid = [[(0.376, -1.97), (1.083, -7.77)]]
vi_inset_dotted = [[(0.246, -2.26), (0.891, -8.13)], [(0.497, -1.66), (1.197, -7.6)]]

# ------------------------------------------------------------------ figure
fig = plt.figure(figsize=(6.2, 6.5), dpi=100)
W, H = 620.0, 650.0
axL = fig.add_axes([50/W, 1-596/H, 255.7/W, 583/H])
axR = fig.add_axes([315/W, 1-596/H, 254/W, 583/H])
insL = fig.add_axes([57.3/W, 1-227.7/H, 87/W, 202/H])
insR = fig.add_axes([322.3/W, 1-227.7/H, 87.7/W, 202/H])

LW = 0.8
DASH = (0, (12, 7))
DOT = (0, (1, 2.5))


def style_axes(ax, right=False):
    ax.set_ylim(-0.32, -6.40)
    ax.xaxis.set_major_locator(MultipleLocator(0.2))
    ax.xaxis.set_minor_locator(MultipleLocator(0.05))
    ax.yaxis.set_major_locator(MultipleLocator(1))
    ax.yaxis.set_minor_locator(MultipleLocator(0.2))
    ax.xaxis.set_major_formatter(FormatStrFormatter('%.1f'))
    ax.yaxis.set_major_formatter(FormatStrFormatter('%d'))
    ax.tick_params(which='both', direction='in', top=True, right=True, width=0.8, colors='#222222')
    ax.tick_params(which='major', length=7)
    ax.tick_params(which='minor', length=3.5)
    ax.tick_params(axis='x', which='major', labelsize=11.5, pad=6)
    if right:
        ax.tick_params(axis='y', labelleft=False, labelright=True, labelsize=11.5, pad=5)
    else:
        ax.tick_params(axis='y', labelsize=11.5, pad=4)
    for s in ax.spines.values():
        s.set_linewidth(1.0)
        s.set_color('#333333')
    ax.set_facecolor('none')


def draw_panel(ax, filled, opened, fit_hi, fit_lo, halfw, solidM, leftM, rightM,
               logp_lines, logp_pos, arrow_top, arrow_bot, top_lbl, bot_lbl, eqs):
    fits = [fit_hi, fit_lo]
    for k in range(2):
        a, b = fits[k]
        Ms = np.array(solidM[k])
        ax.plot((Ms - b) / a, Ms, color='#222222', lw=LW)
        Ml = np.array(leftM[k])
        ax.plot((Ml - b) / a - halfw[k], Ml, color='#222222', lw=LW, ls=DASH)
        Mr = np.array(rightM[k])
        ax.plot((Mr - b) / a + halfw[k], Mr, color='#222222', lw=LW, ls=DASH)
    for (x1, m1, x2, m2), (lx, lm), lab in zip(logp_lines, logp_pos, logp_labels):
        ax.plot([x1, x2], [m1, m2], color='#333333', lw=LW, ls=DOT)
        ax.text(lx, lm, lab, fontsize=10, ha='center', va='center', color='#222222')
    o = np.array(opened)
    ax.scatter(o[:, 0], o[:, 1], s=8, facecolor='white', edgecolor='#4a4a4a',
               linewidths=0.6, zorder=3)
    f = np.array(filled)
    sizes = 5 + 11 * np.clip((-f[:, 1] - 3.0) / 1.6, 0, 1)
    ax.scatter(f[:, 0], f[:, 1], s=sizes, color='black', linewidths=0, zorder=4)
    # arrows showing band half-widths
    a, b = fit_hi
    xc = (arrow_top - b) / a
    ax.annotate('', xy=(xc + halfw[0], arrow_top), xytext=(xc - halfw[0], arrow_top),
                arrowprops=dict(arrowstyle='<->', lw=0.7, color='#444444', mutation_scale=14,
                                shrinkA=0, shrinkB=0))
    ax.text(xc + 0.01, arrow_top - 0.13, top_lbl, fontsize=10.5, ha='center', va='center')
    a, b = fit_lo
    xc = (arrow_bot - b) / a
    ax.annotate('', xy=(xc + halfw[1], arrow_bot), xytext=(xc - halfw[1], arrow_bot),
                arrowprops=dict(arrowstyle='<->', lw=0.7, color='#444444', mutation_scale=14,
                                shrinkA=0, shrinkB=0))
    ax.text(xc + 0.03, arrow_bot + 0.17, bot_lbl, fontsize=10.5, ha='center', va='center')
    ax.text(0.031, 0.049, eqs[0], transform=ax.transAxes, fontsize=7.9, va='center', ha='left')
    ax.text(0.031, 0.019, eqs[1], transform=ax.transAxes, fontsize=7.9, va='center', ha='left')


axL.set_xlim(-0.114, 1.197)
axR.set_xlim(-0.115, 1.177)
style_axes(axL)
style_axes(axR, right=True)

draw_panel(axL, bv_filled + bv_filled_more, bv_open + bv_open_more, bv_fit_hi, bv_fit_lo,
           bv_halfwidth, bv_solid_M, bv_left_M, bv_right_M, bv_logp_lines, bv_logp_label_pos,
           bv_arrow_top_M, bv_arrow_bot_M, '\u00b10.14', '\u00b10.16', bv_eq)
draw_panel(axR, vi_filled + vi_filled_more, vi_open + vi_open_more, vi_fit_hi, vi_fit_lo,
           vi_halfwidth, vi_solid_M, vi_left_M, vi_right_M, vi_logp_lines, vi_logp_label_pos,
           vi_arrow_top_M, vi_arrow_bot_M, '\u00b10.13', '\u00b10.105', vi_eq)


def draw_inset(ax, tri, solid, dotted):
    ax.set_xlim(-0.5, 1.5)
    ax.set_ylim(-0.5, -8.5)
    ax.xaxis.set_major_locator(MultipleLocator(0.5))
    ax.xaxis.set_minor_locator(MultipleLocator(0.1))
    ax.yaxis.set_major_locator(MultipleLocator(1))
    ax.yaxis.set_minor_locator(MultipleLocator(0.2))
    ax.tick_params(which='both', direction='in', top=True, right=True, labelbottom=False,
                   labelleft=False, width=0.6)
    ax.tick_params(which='major', length=3)
    ax.tick_params(which='minor', length=1.5)
    for s in ax.spines.values():
        s.set_linewidth(0.9)
        s.set_color('#333333')
    ax.set_facecolor('none')
    for seg in solid:
        p = np.array(seg)
        ax.plot(p[:, 0], p[:, 1], color='#333333', lw=0.7)
    for seg in dotted:
        p = np.array(seg)
        ax.plot(p[:, 0], p[:, 1], color='#333333', lw=0.8, ls=(0, (1, 3)))
    t = np.array(tri)
    ax.scatter(t[:, 0], t[:, 1], marker='^', s=5, facecolor='none', edgecolor='#333333',
               linewidths=0.5)


draw_inset(insL, bv_inset_tri, bv_inset_solid, bv_inset_dotted)
draw_inset(insR, vi_inset_tri, vi_inset_solid, vi_inset_dotted)

# axis labels
fig.text(177/W, 1-636/H, '(B-V)$^{0}$', fontsize=12, ha='center', va='baseline')
fig.text(443/W, 1-636/H, '(V-I)$^{0}$', fontsize=12, ha='center', va='baseline')
fig.text(21/W, 1-296/H, 'M$_{\\rm V}^{\\ 0}$', fontsize=13, rotation=90, ha='center', va='center')
fig.text(600/W, 1-296/H, 'M$_{\\rm V}^{\\ 0}$', fontsize=13, rotation=90, ha='center', va='center')
fig.text(1/W, 1-568/H, 'log P >1', fontsize=7.6, ha='left', va='center')
fig.text(1/W, 1-585/H, 'log P <1', fontsize=7.6, ha='left', va='center')

fig.savefig('out.png', dpi=100, facecolor='white')
